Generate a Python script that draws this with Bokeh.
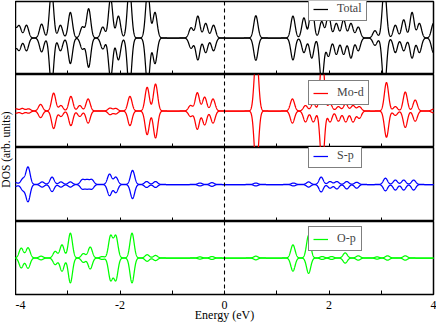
import numpy as np
from bokeh.plotting import figure
from bokeh.layouts import row, column
from bokeh.models import Range1d, FixedTicker, Span, Legend, LegendItem, CustomLabelingPolicy
from bokeh.embed import file_html
from bokeh.resources import INLINE

# ---------------- data (peak energy in eV, spin-up height, spin-down height) ----------------
tick_values = [-4, -3, -2, -1, 0, 1, 2, 3, 4]
labelled_ticks = [-4, -2, 0, 2, 4]

total_E  = [-4.03, -3.93, -3.79, -3.50, -3.31, -3.14, -2.95, -2.72, -2.60, -2.33, -2.18, -2.03, -1.82, -1.47, -1.33,
            -0.64, -0.51, -0.36, -0.21, 0.60, 1.31, 1.52, 1.67, 1.86, 1.99, 2.14, 2.28, 2.42, 2.56, 2.88, 3.06,
            3.27, 3.43, 3.59, 3.73, 4.00]
total_up = [0.30, 0.33, 0.35, 0.38, 1.30, 0.35, 0.70, 0.30, 0.80, 0.30, 1.10, 0.60, 1.40, 1.30, 0.70,
            0.28, 0.60, 0.40, 0.35, 0.61, 0.60, 0.55, 0.95, 0.45, 0.65, 0.40, 0.50, 0.40, 0.30, 0.20, 1.40,
            0.35, 0.50, 0.70, 0.40, 0.40]
total_dn = [0.30, 0.33, 0.35, 0.38, 1.30, 0.35, 0.70, 0.30, 0.80, 0.30, 1.10, 0.60, 1.40, 1.30, 0.70,
            0.28, 0.60, 0.40, 0.35, 0.61, 0.60, 0.40, 0.55, 1.20, 0.50, 0.45, 0.45, 0.55, 0.35, 0.20, 1.40,
            0.40, 0.35, 0.55, 0.40, 0.40]

mod_E  = [-3.99, -3.87, -3.75, -3.52, -3.27, -3.13, -2.94, -2.77, -2.61, -2.19, -2.08, -1.81, -1.48, -1.32,
          -0.65, -0.52, -0.38, -0.22, 0.61, 1.30, 1.55, 1.70, 1.87, 2.02, 2.18, 2.32, 2.46, 2.58, 3.10,
          3.27, 3.46, 3.65, 4.00]
mod_up = [0.06, 0.07, 0.06, 0.18, 0.49, 0.15, 0.40, 0.15, 0.33, 0.08, 0.07, 0.40, 0.65, 0.74,
          0.15, 0.50, 0.38, 0.33, 1.60, 0.33, 0.15, 0.22, 1.50, 0.20, 0.12, 0.20, 0.15, 0.12, 0.78,
          0.12, 0.52, 0.30, 0.05]
mod_dn = [0.06, 0.07, 0.06, 0.18, 0.48, 0.15, 0.40, 0.15, 0.33, 0.10, 0.08, 0.40, 0.65, 0.74,
          0.15, 0.50, 0.38, 0.33, 1.60, 0.33, 0.30, 0.30, 1.50, 0.30, 0.28, 0.30, 0.30, 0.20, 0.72,
          0.12, 0.45, 0.28, 0.05]

sp_E  = [-4.00, -3.86, -3.76, -3.49, -3.30, -3.13, -2.95, -2.72, -2.63, -2.54, -2.20, -2.08, -1.76,
         -1.49, -1.32, -0.47, -0.24, 0.60, 1.32, 1.61, 1.85, 2.02, 2.15, 2.34, 2.53, 3.08, 3.27, 3.43, 3.62]
sp_up = [0.05, 0.15, 0.47, 0.07, 0.20, 0.07, 0.07, 0.13, 0.12, 0.13, 0.28, 0.20, 0.38,
         0.08, 0.08, 0.04, 0.05, 0.04, 0.04, 0.07, 0.20, 0.08, 0.08, 0.08, 0.06, 0.17, 0.12, 0.12, 0.12]
sp_dn = [0.05, 0.15, 0.46, 0.07, 0.19, 0.07, 0.07, 0.12, 0.11, 0.12, 0.30, 0.22, 0.38,
         0.08, 0.08, 0.04, 0.05, 0.04, 0.04, 0.07, 0.20, 0.10, 0.12, 0.12, 0.10, 0.17, 0.15, 0.15, 0.15]

op_E  = [-3.89, -3.76, -3.51, -3.24, -3.11, -2.95, -2.70, -2.57, -2.34, -2.18, -2.08, -1.77, -1.48, -1.32,
         -0.47, -0.24, 0.60, 1.31, 1.61, 1.87, 2.05, 2.31, 2.56, 2.92, 3.12, 3.46]
op_up = [0.27, 0.28, 0.05, 0.18, 0.36, 0.68, 0.12, 0.30, 0.04, 0.60, 0.60, 0.68, 0.09, 0.07,
         0.03, 0.04, 0.05, 0.36, 0.62, 0.04, 0.04, 0.14, 0.06, 0.03, 0.06, 0.06]
op_dn = [0.27, 0.28, 0.05, 0.18, 0.36, 0.68, 0.12, 0.30, 0.04, 0.60, 0.60, 0.68, 0.09, 0.07,
         0.03, 0.04, 0.05, 0.36, 0.42, 0.04, 0.04, 0.14, 0.06, 0.03, 0.06, 0.06]

panel_names = ["Total", "Mo-d", "S-p", "O-p"]
panel_colors = ["#000000", "#ff0000", "#0000ff", "#00ff00"]

# ---------------- curves: Gaussian-broadened peaks ----------------
sigma = 0.04
energy = np.linspace(-4.3, 4.3, 3441)


def broaden(E0, h):
    out = np.zeros_like(energy)
    for e, a in zip(E0, h):
        out += a * np.exp(-(energy - e) ** 2 / (2 * sigma ** 2))
    return out


panels = [(total_E, total_up, total_dn), (mod_E, mod_up, mod_dn),
          (sp_E, sp_up, sp_dn), (op_E, op_up, op_dn)]

HIDE_ALL = "for (const i of indices) { indices.unset(i) }\nreturn indices"
HIDE_ODD = "for (const i of indices) { if (i % 2 == 1) { indices.unset(i) } }\nreturn indices"

FONT = "Liberation Serif"
x_range = Range1d(-4, 4)
frame_heights = [73, 73, 74, 73]
legend_pos = [(293, 0), (293, 11), (293, 1), (293, 10)]   # (left, top) offsets in frame px
legend_h = 20

figs = []
for i, ((E0, up, dn), name, col) in enumerate(zip(panels, panel_names, panel_colors)):
    last = (i == 3)
    p = figure(frame_width=418, frame_height=frame_heights[i], x_range=x_range,
               y_range=Range1d(-1, 1), output_backend="svg", toolbar_location=None,
               y_axis_location=None, min_border_left=0, min_border_right=3,
               min_border_top=1 if i == 0 else 0, min_border_bottom=0)
    p.grid.visible = False
    p.outline_line_color = "black"
    p.outline_line_width = 1.5
    p.background_fill_color = "white"
    p.border_fill_color = "white"

    r_up = p.line(energy, broaden(E0, up), line_color=col, line_width=1.25)
    p.line(energy, -broaden(E0, dn), line_color=col, line_width=1.25)

    p.add_layout(Span(location=0, dimension="height", line_color="black",
                      line_width=1.1, line_dash="4 3"))

    ax = p.xaxis[0]
    ax.ticker = FixedTicker(ticks=tick_values, minor_ticks=[])
    ax.major_tick_in = 4
    ax.major_tick_out = 0
    ax.major_tick_line_color = "black"
    ax.axis_line_color = None
    ax.minor_tick_line_color = None
    if last:
        ax.major_label_policy = CustomLabelingPolicy(code=HIDE_ODD)
        ax.major_label_overrides = {t: str(t) for t in labelled_ticks}
        ax.major_label_text_font = FONT
        ax.major_label_text_font_size = "12px"
        ax.major_label_text_color = "black"
        ax.major_label_standoff = 6
        ax.axis_label = "Energy (eV)"
        ax.axis_label_text_font = FONT
        ax.axis_label_text_font_size = "12px"
        ax.axis_label_text_font_style = "normal"
        ax.axis_label_text_color = "black"
        ax.axis_label_standoff = -4
    else:
        ax.major_label_policy = CustomLabelingPolicy(code=HIDE_ALL)
        ax.major_label_text_font_size = "0px"
        ax.major_label_standoff = 0

    lx, ly = legend_pos[i]
    leg = Legend(items=[LegendItem(label=name, renderers=[r_up])],
                 location=(lx, frame_heights[i] - ly - legend_h),
                 label_text_font=FONT, label_text_font_size="12px",
                 glyph_width=15, glyph_height=10, label_height=10,
                 label_standoff=9, padding=4, margin=0, spacing=0,
                 border_line_color="black", border_line_width=1,
                 background_fill_color="white", background_fill_alpha=1.0)
    p.add_layout(leg)
    figs.append(p)

# y-axis label spanning all panels
lab = figure(width=15, height=298, x_range=Range1d(0, 1), y_range=Range1d(0, 1),
             output_backend="svg", toolbar_location=None, x_axis_location=None,
             min_border_left=0, min_border_right=0, min_border_top=0, min_border_bottom=0)
lab.outline_line_color = None
lab.grid.visible = False
lab.scatter([0.5], [0.5], alpha=0)
lay = lab.yaxis[0]
lay.axis_label = "DOS (arb. units)"
lay.axis_label_text_font = FONT
lay.axis_label_text_font_size = "11.5px"
lay.axis_label_text_font_style = "normal"
lay.axis_label_text_color = "black"
lay.axis_label_standoff = 0
lay.major_label_policy = CustomLabelingPolicy(code=HIDE_ALL)
lay.major_label_text_font_size = "0px"
lay.major_label_standoff = 0
lay.major_tick_out = 0
lay.major_tick_in = 0
lay.minor_tick_line_color = None
lay.axis_line_color = None

root = row(lab, column(*figs, spacing=0), spacing=0)

open("out.html", "w").write(file_html(root, INLINE))
